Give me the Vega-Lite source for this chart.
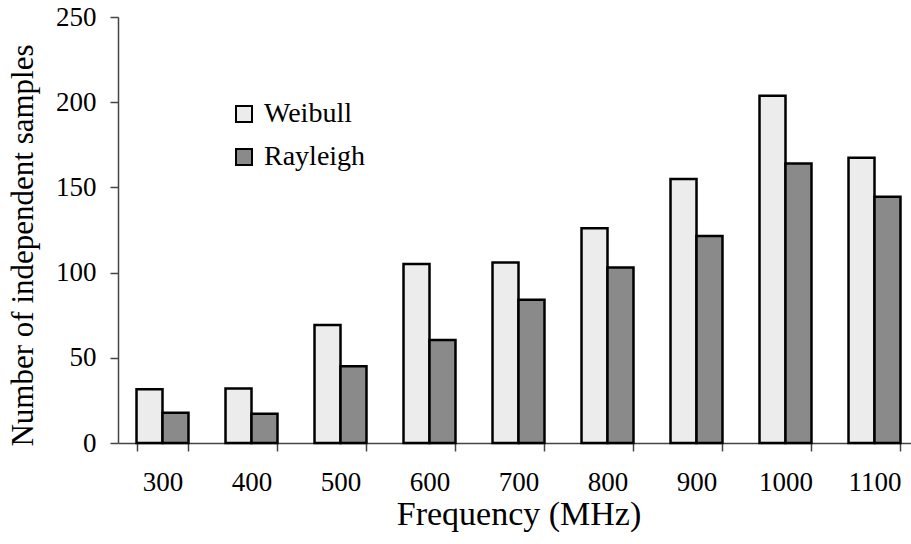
{
  "$schema": "https://vega.github.io/schema/vega-lite/v6.json",
  "width": 801,
  "height": 426,
  "padding": {"left": 118, "top": 17, "right": 0, "bottom": 101},
  "autosize": {"type": "none"},
  "background": "white",
  "config": {
    "view": {"stroke": null},
    "font": "Liberation Serif",
    "axis": {"labelFont": "Liberation Serif", "titleFont": "Liberation Serif", "labelColor": "black", "titleColor": "black", "titleFontWeight": "normal", "domainColor": "#444", "tickColor": "#444", "domainWidth": 1.5, "tickWidth": 1.5, "grid": false}
  },
  "data": {
    "values": [
      {"freq": "300", "series": "Weibull", "value": 31.5},
      {"freq": "300", "series": "Rayleigh", "value": 17.8},
      {"freq": "400", "series": "Weibull", "value": 32},
      {"freq": "400", "series": "Rayleigh", "value": 17.2},
      {"freq": "500", "series": "Weibull", "value": 69.2},
      {"freq": "500", "series": "Rayleigh", "value": 45},
      {"freq": "600", "series": "Weibull", "value": 105},
      {"freq": "600", "series": "Rayleigh", "value": 60.4},
      {"freq": "700", "series": "Weibull", "value": 106},
      {"freq": "700", "series": "Rayleigh", "value": 84},
      {"freq": "800", "series": "Weibull", "value": 126},
      {"freq": "800", "series": "Rayleigh", "value": 103},
      {"freq": "900", "series": "Weibull", "value": 155},
      {"freq": "900", "series": "Rayleigh", "value": 121.5},
      {"freq": "1000", "series": "Weibull", "value": 203.8},
      {"freq": "1000", "series": "Rayleigh", "value": 164},
      {"freq": "1100", "series": "Weibull", "value": 167.4},
      {"freq": "1100", "series": "Rayleigh", "value": 144.5}
    ]
  },
  "mark": {"type": "bar", "stroke": "black", "strokeWidth": 2.5, "strokeJoin": "miter"},
  "encoding": {
    "x": {
      "field": "freq", "type": "nominal", "sort": null,
      "scale": {"paddingInner": 0.416, "paddingOuter": 0.208},
      "axis": {"title": "Frequency (MHz)", "labelAngle": 0, "labelFontSize": 27, "titleFontSize": 34, "tickBand": "extent", "tickSize": 8, "labelPadding": 18, "titlePadding": 2}
    },
    "xOffset": {"field": "series", "type": "nominal", "sort": ["Weibull", "Rayleigh"], "scale": {"paddingInner": 0, "paddingOuter": 0}},
    "y": {
      "field": "value", "type": "quantitative",
      "scale": {"domain": [0, 250], "nice": false},
      "axis": {"title": "Number of independent samples", "values": [0, 50, 100, 150, 200, 250], "labelFontSize": 27, "titleFontSize": 31, "tickSize": 8, "labelPadding": 14, "titlePadding": 16, "titleY": 228}
    },
    "fill": {
      "field": "series", "type": "nominal", "sort": ["Weibull", "Rayleigh"],
      "scale": {"domain": ["Weibull", "Rayleigh"], "range": ["#ececec", "#8a8a8a"]},
      "legend": {"title": null, "orient": "none", "legendX": 112, "legendY": 83, "padding": 0, "symbolType": "square", "symbolSize": 256, "symbolStrokeColor": "black", "symbolStrokeWidth": 2, "labelFontSize": 28, "labelFont": "Liberation Serif", "labelColor": "black", "rowPadding": 15, "labelOffset": 6}
    }
  }
}
